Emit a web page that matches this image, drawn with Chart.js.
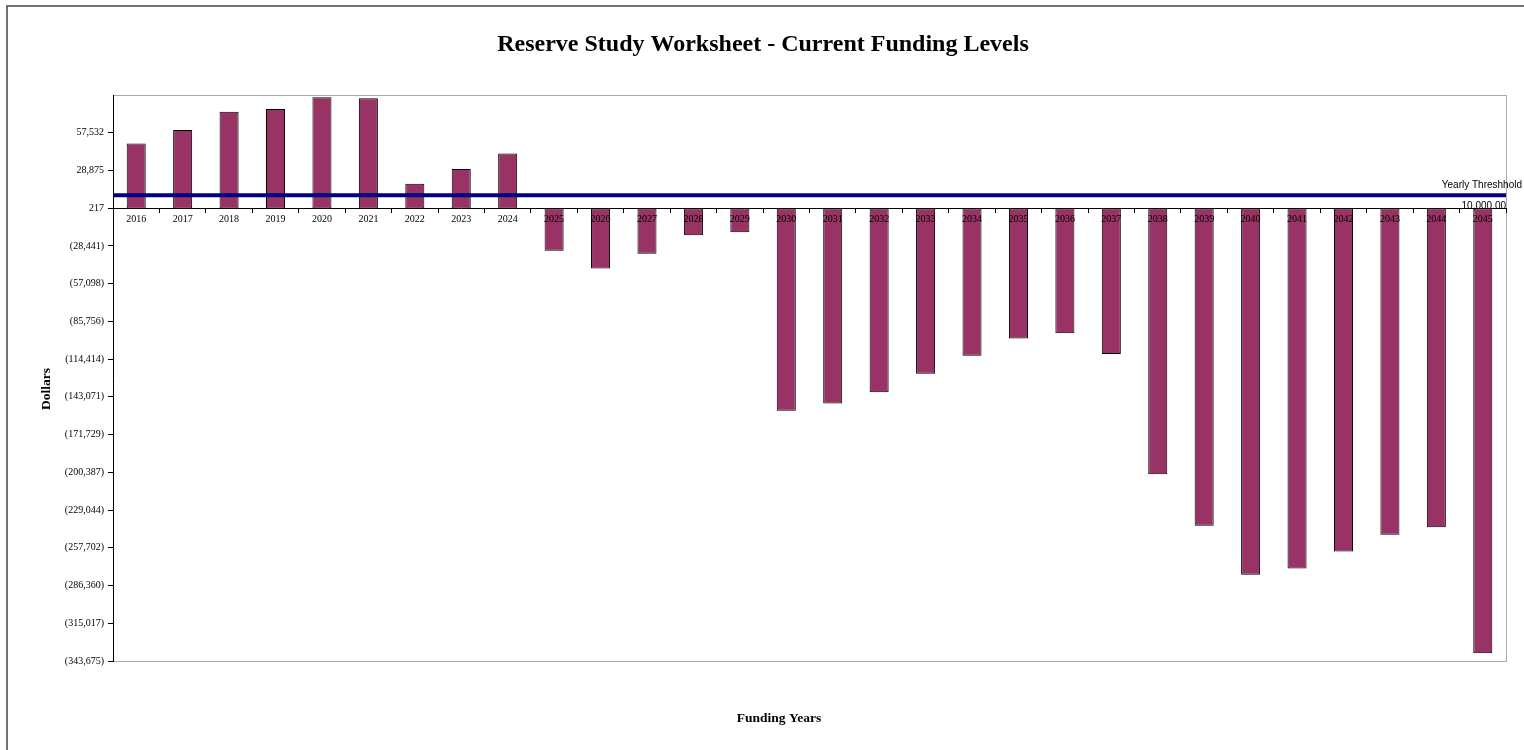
<!DOCTYPE html>
<html>
<head>
<meta charset="utf-8">
<title>Reserve Study Worksheet</title>
<script src="https://cdn.jsdelivr.net/npm/chart.js@4/dist/chart.umd.min.js"></script>
<style>
  body { margin: 0; background: #fff; }
  canvas { display: block; }
</style>
</head>
<body>
<canvas id="reserve" width="1524" height="750"></canvas>
<script>
// Funding years and projected year-end reserve balance
var years = ['2016', '2017', '2018', '2019', '2020', '2021', '2022', '2023', '2024', '2025',
             '2026', '2027', '2028', '2029', '2030', '2031', '2032', '2033', '2034', '2035',
             '2036', '2037', '2038', '2039', '2040', '2041', '2042', '2043', '2044', '2045'];
var balances = [49430, 59580, 73560, 75620, 84570, 83800, 18860, 30010, 41780, -32110,
                -45640, -34400, -20420, -18120, -153620, -148040, -139630, -125570, -111810, -98820,
                -94770, -110590, -201760, -240960, -278180, -273370, -260600, -247840, -242030, -337790];

// Yearly threshold
var threshold = 10000;

// Value axis
var yTicks = [57532, 28875, 217, -28441, -57098, -85756, -114414, -143071, -171729,
              -200387, -229044, -257702, -286360, -315017, -343675];
var yMin = -343675;
var yMax = 86190;
var axisCross = 217;

function money(v) {
    var s = Math.abs(v).toLocaleString('en-US');
    return v < 0 ? '(' + s + ')' : s;
}

var serif = '"Liberation Serif", "Times New Roman", serif';
var sans = '"Liberation Sans", Arial, sans-serif';

var decorations = {
    id: 'decorations',
    beforeDraw: function (chart) {
        var c = chart.ctx, a = chart.chartArea;
        c.save();
        c.fillStyle = '#fff';
        c.fillRect(0, 0, chart.width, chart.height);
        // outer frame
        c.strokeStyle = '#444';
        c.lineWidth = 1.5;
        c.beginPath();
        c.moveTo(7, chart.height + 2);
        c.lineTo(7, 6);
        c.lineTo(chart.width + 2, 6);
        c.stroke();
        // plot area frame
        c.strokeStyle = '#aaa';
        c.lineWidth = 1;
        c.strokeRect(a.left + 0.5, a.top + 0.5, a.right - a.left, a.bottom - a.top);
        c.restore();
    },
    afterDatasetsDraw: function (chart) {
        var c = chart.ctx, a = chart.chartArea;
        var y = chart.scales.y.getPixelForValue(threshold);
        c.save();
        c.strokeStyle = '#000080';
        c.lineWidth = 4;
        c.beginPath();
        c.moveTo(a.left, y);
        c.lineTo(a.right, y);
        c.stroke();
        c.fillStyle = '#000';
        c.font = '10px ' + sans;
        c.textAlign = 'right';
        c.textBaseline = 'middle';
        c.fillText('Yearly Threshhold', chart.width - 2, y - 10);
        c.fillText(threshold.toLocaleString('en-US', { minimumFractionDigits: 2 }), a.right, y + 11);
        c.restore();
    },
    afterDraw: function (chart) {
        var c = chart.ctx;
        c.save();
        c.fillStyle = '#000';
        c.textAlign = 'center';
        c.textBaseline = 'middle';
        c.font = 'bold 24px ' + serif;
        c.fillText('Reserve Study Worksheet - Current Funding Levels', 763, 45);
        c.font = 'bold 13.5px ' + serif;
        c.fillText('Funding Years', 779, 719);
        c.translate(47, 389);
        c.rotate(-Math.PI / 2);
        c.fillText('Dollars', 0, 0);
        c.restore();
    }
};

var ctx = document.getElementById('reserve').getContext('2d');
var chart = new Chart(ctx, {
    type: 'bar',
    data: {
        labels: years,
        datasets: [{
            label: 'Reserve Balance',
            data: balances,
            backgroundColor: '#993366',
            borderColor: '#000',
            borderWidth: 1,
            borderSkipped: false,
            categoryPercentage: 1,
            barPercentage: 0.41
        }]
    },
    options: {
        responsive: false,
        animation: false,
        layout: { padding: { top: 95, right: 18, bottom: 89, left: 0 } },
        plugins: {
            legend: { display: false },
            tooltip: { enabled: false }
        },
        scales: {
            x: {
                position: { y: axisCross },
                offset: true,
                grid: {
                    offset: true,
                    drawOnChartArea: false,
                    drawTicks: true,
                    tickLength: 4,
                    color: '#000'
                },
                border: { display: true, color: '#000', width: 1 },
                ticks: {
                    z: 1,
                    color: '#000',
                    padding: 1,
                    maxRotation: 0,
                    autoSkip: false,
                    font: { family: serif, size: 10 }
                }
            },
            y: {
                min: yMin,
                max: yMax,
                afterBuildTicks: function (axis) {
                    axis.ticks = yTicks.map(function (v) { return { value: v }; });
                },
                afterFit: function (axis) { axis.width = 113; },
                grid: {
                    drawOnChartArea: false,
                    drawTicks: true,
                    tickLength: 5,
                    color: '#000'
                },
                border: { display: true, color: '#000', width: 1 },
                ticks: {
                    color: '#000',
                    padding: 4,
                    font: { family: serif, size: 10 },
                    callback: function (v) { return money(v); }
                }
            }
        }
    },
    plugins: [decorations]
});
</script>
</body>
</html>
